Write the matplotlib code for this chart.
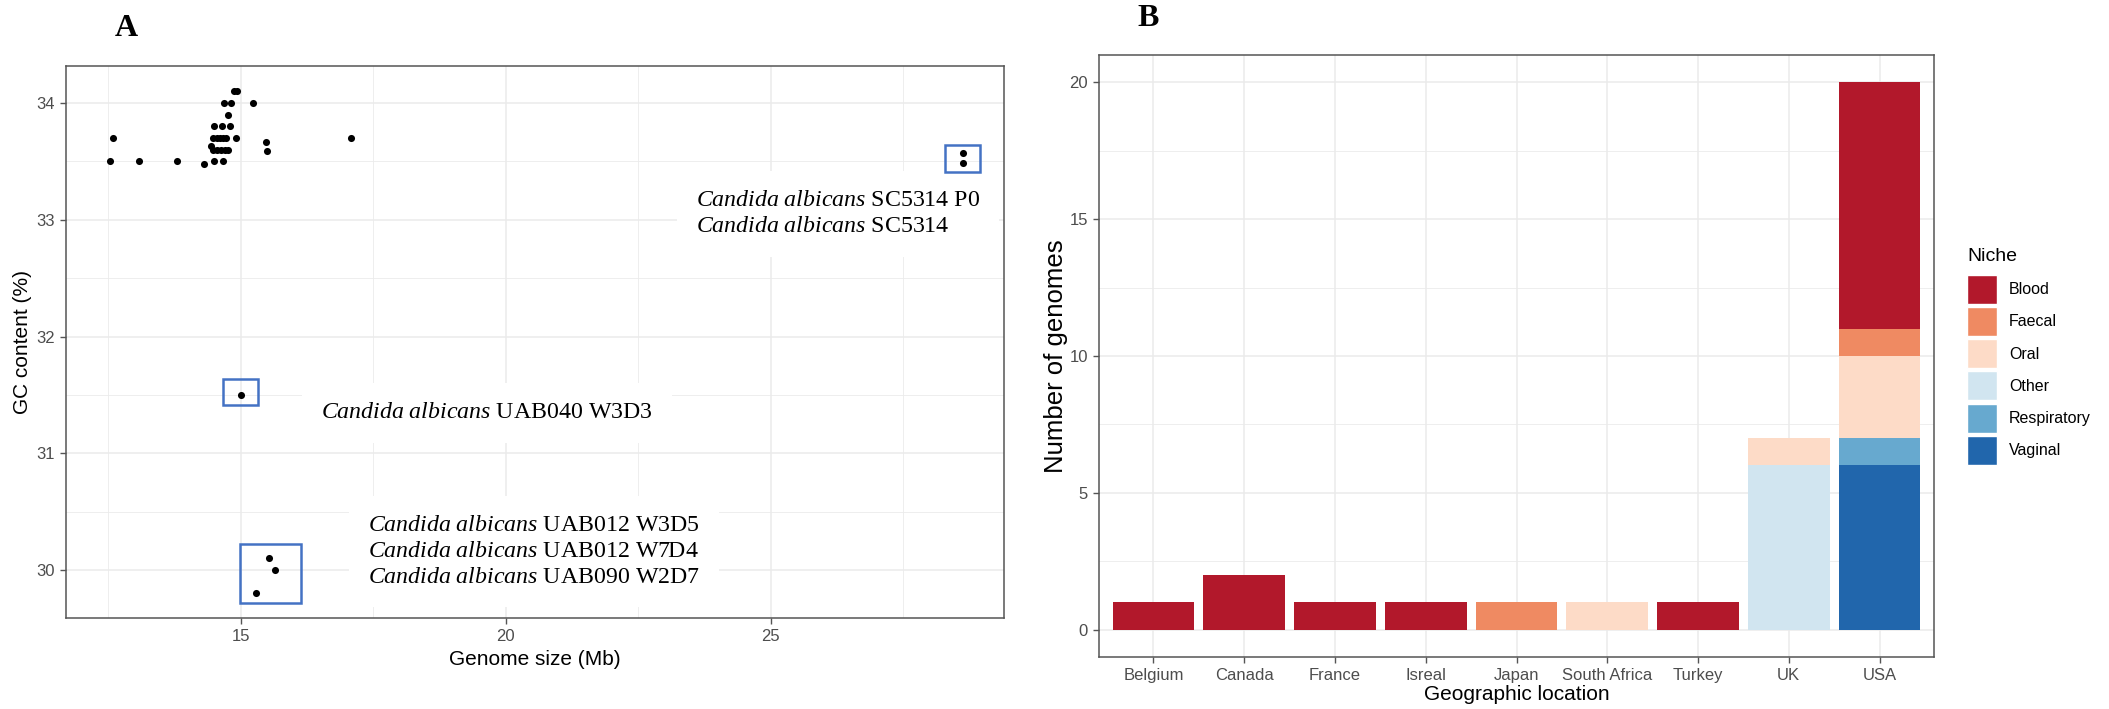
import matplotlib.pyplot as plt
import numpy as np
from matplotlib.patches import Rectangle, Patch
from matplotlib.ticker import MultipleLocator

plt.rcParams['font.family'] = ['Liberation Sans', 'DejaVu Sans']
plt.rcParams['mathtext.fontset'] = 'custom'
plt.rcParams['mathtext.it'] = 'Liberation Serif:italic'
plt.rcParams['mathtext.rm'] = 'Liberation Serif'

# ---- panel A data: genome size (Mb) vs GC content (%)
genome_size = [12.53, 12.58, 13.08, 13.79, 14.30, 14.49, 14.66,
               14.49, 14.64, 14.80,
               14.48, 14.54, 14.61, 14.67, 14.72, 14.90, 17.08,
               14.43, 14.47, 14.55, 14.62, 14.70, 14.76,
               14.76, 14.68, 14.81, 15.23, 14.87, 14.92,
               15.47, 15.50,
               28.62, 28.62,
               15.00,
               15.53, 15.65, 15.28]
gc_content = [33.50, 33.70, 33.50, 33.50, 33.48, 33.50, 33.50,
              33.80, 33.80, 33.80,
              33.70, 33.70, 33.70, 33.70, 33.70, 33.70, 33.70,
              33.63, 33.60, 33.60, 33.60, 33.60, 33.60,
              33.90, 34.00, 34.00, 34.00, 34.10, 34.10,
              33.67, 33.59,
              33.57, 33.49,
              31.50,
              30.10, 30.00, 29.80]

strain_sc5314 = ['SC5314 P0', 'SC5314']
strain_uab040 = ['UAB040 W3D3']
strain_low = ['UAB012 W3D5', 'UAB012 W7D4', 'UAB090 W2D7']

# ---- panel B data: genomes per country, split by niche
countries = ['Belgium', 'Canada', 'France', 'Isreal', 'Japan',
             'South Africa', 'Turkey', 'UK', 'USA']
blood = [1, 2, 1, 1, 0, 0, 1, 0, 9]
faecal = [0, 0, 0, 0, 1, 0, 0, 0, 1]
oral = [0, 0, 0, 0, 0, 1, 0, 1, 3]
other = [0, 0, 0, 0, 0, 0, 0, 6, 0]
respiratory = [0, 0, 0, 0, 0, 0, 0, 0, 1]
vaginal = [0, 0, 0, 0, 0, 0, 0, 0, 6]
niches = ['Blood', 'Faecal', 'Oral', 'Other', 'Respiratory', 'Vaginal']
niche_colors = ['#B2182B', '#EF8A62', '#FDDBC7', '#D1E5F0', '#67A9CF', '#2166AC']

grid_col = '#EBEBEB'
tick_col = '#4D4D4D'
border_col = '#555555'


def bw_style(ax):
    for s in ax.spines.values():
        s.set_color(border_col)
        s.set_linewidth(1.1)
    ax.tick_params(colors=border_col, labelcolor=tick_col, labelsize=12,
                   length=4, width=1.0, pad=4)
    ax.tick_params(which='minor', length=0)
    ax.grid(which='major', color=grid_col, lw=1.1)
    ax.set_axisbelow(True)


fig = plt.figure(figsize=(21.09, 7.09), dpi=100)

# ================= panel A
axA = fig.add_axes([66 / 2109, 1 - 618 / 709, (1004 - 66) / 2109, (618 - 66) / 709])
bw_style(axA)
axA.xaxis.set_minor_locator(MultipleLocator(2.5))
axA.yaxis.set_minor_locator(MultipleLocator(0.5))
axA.grid(which='minor', color=grid_col, lw=0.6)
axA.set_xticks([15, 20, 25])
axA.set_yticks([30, 31, 32, 33, 34])
axA.set_xlim(11.7, 29.4)
axA.set_ylim(29.589, 34.317)
axA.scatter(genome_size, gc_content, s=26, color='black', zorder=3, linewidths=0)
axA.set_xlabel('Genome size (Mb)', fontsize=15, labelpad=4)
axA.set_ylabel('GC content (%)', fontsize=15, labelpad=3)

# highlight boxes
box_kw = dict(fill=False, edgecolor='#4472C4', lw=1.8, zorder=4)
axA.add_patch(Rectangle((28.28, 33.41), 0.66, 0.23, **box_kw))
axA.add_patch(Rectangle((14.67, 31.41), 0.66, 0.23, **box_kw))
axA.add_patch(Rectangle((14.99, 29.72), 1.14, 0.505, **box_kw))

sp = r'$\mathit{Candida\ albicans}$ '
lab_kw = dict(family=['Liberation Serif', 'DejaVu Serif'], fontsize=17.2, ha='left',
              va='center', zorder=2, linespacing=1.32,
              bbox=dict(boxstyle='square,pad=0.8', fc='white', ec='none'))
axA.text(23.59, 33.05, '\n'.join(sp + s for s in strain_sc5314), **lab_kw)
axA.text(16.51, 31.345, '\n'.join(sp + s for s in strain_uab040), **lab_kw)
axA.text(17.40, 30.16, '\n'.join(sp + s for s in strain_low), **lab_kw)

fig.text(126 / 2109, 1 - 28 / 709, 'A', family='Liberation Serif', fontsize=23,
         fontweight='bold', ha='center', va='center')

# ================= panel B
axB = fig.add_axes([1099 / 2109, 1 - 657 / 709, (1934 - 1099) / 2109, (657 - 55) / 709])
bw_style(axB)
axB.yaxis.set_minor_locator(MultipleLocator(2.5))
axB.grid(which='minor', axis='y', color=grid_col, lw=0.6)

x = np.arange(1, len(countries) + 1)
stack = {'Blood': blood, 'Faecal': faecal, 'Oral': oral, 'Other': other,
         'Respiratory': respiratory, 'Vaginal': vaginal}
bottom = np.zeros(len(countries))
for name in ['Vaginal', 'Respiratory', 'Other', 'Oral', 'Faecal', 'Blood']:
    vals = np.array(stack[name], dtype=float)
    axB.bar(x, vals, bottom=bottom, width=0.9, color=niche_colors[niches.index(name)],
            edgecolor='none', zorder=2)
    bottom += vals

axB.set_xticks(x)
axB.set_xticklabels(countries)
axB.set_yticks([0, 5, 10, 15, 20])
axB.set_xlim(0.4, 9.6)
axB.set_ylim(-1, 21)
axB.set_xlabel('Geographic location', fontsize=15, labelpad=1)
axB.set_ylabel('Number of genomes', fontsize=18.5, labelpad=1)

handles = [Patch(facecolor=c, edgecolor='white', lw=1) for c in niche_colors]
leg = fig.legend(handles, niches, loc='upper left',
                 bbox_to_anchor=(1967 / 2109, 1 - 248 / 709), frameon=False,
                 title='Niche', title_fontsize=14, fontsize=11.5,
                 handlelength=1.88, handleheight=2.42, labelspacing=0.2,
                 handletextpad=0.75, borderpad=0, borderaxespad=0, alignment='left')
leg._legend_box.sep = 7

fig.text(1148 / 2109, 1 - 18 / 709, 'B', family='Liberation Serif', fontsize=23,
         fontweight='bold', ha='center', va='center')

plt.savefig('out.png', dpi=100)
